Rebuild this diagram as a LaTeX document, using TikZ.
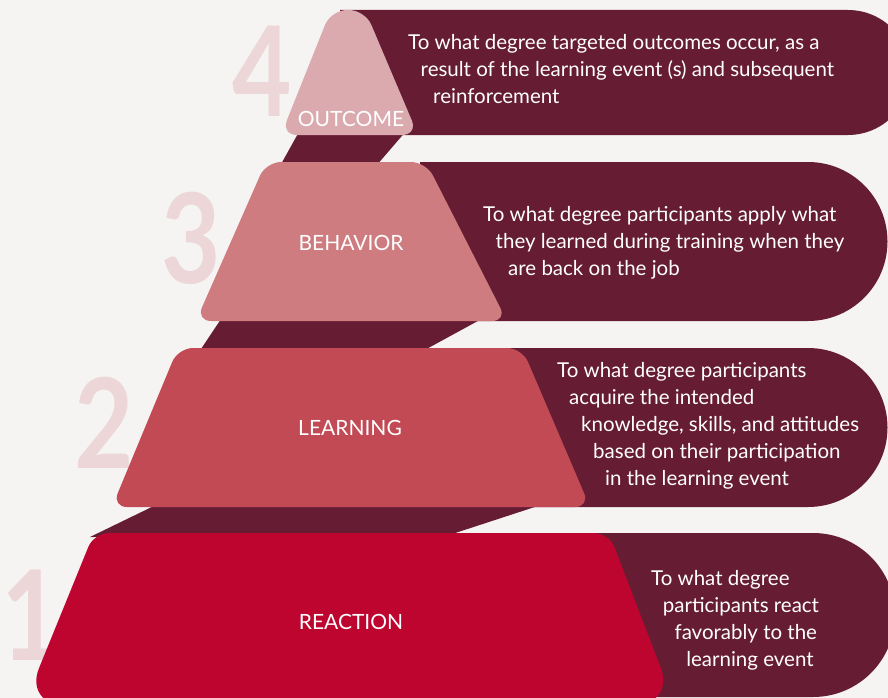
\documentclass[tikz,border=0pt]{standalone}
\usepackage{fontspec}
\setmainfont{Lato}
\definecolor{pagebg}{HTML}{F5F4F2}
\definecolor{wine}{HTML}{661D33}
\definecolor{numpink}{HTML}{ECD6D8}
\definecolor{outcomefill}{HTML}{DAAAAE}
\definecolor{behaviorfill}{HTML}{CE7C80}
\definecolor{learningfill}{HTML}{C24A54}
\definecolor{reactionfill}{HTML}{BD052F}

\begin{document}
\begin{tikzpicture}[
  x=1pt, y=-1pt,
  band/.style={fill=wine},
  stair/.style={fill=wine},
  level/.style={rounded corners=15pt},
  levelname/.style={text=white, font=\fontsize{21}{25}\selectfont, inner sep=0pt, anchor=base},
  levelnum/.style={text=numpink, font=\fontsize{125}{125}\selectfont\bfseries, inner sep=0pt,
    anchor=base, xscale=0.82, transform shape},
  desc/.style={text=white, font=\fontsize{20.5}{27}\selectfont, inner sep=0pt, anchor=base west}
]
\clip (0,0) rectangle (888,698);
\fill[pagebg] (0,0) rectangle (888,698);

% level numbers, partly hidden by the levels
\node[levelnum] (num4) at (262,117) {4};
\node[levelnum] (num3) at (191,283) {3};
\node[levelnum] (num2) at (104,468) {2};
\node[levelnum] (num1) at (31,660) {1};

% dark bands behind each level
\fill[band] (340,10) -- (848,10) arc[start angle=90, end angle=-90, radius=62.5pt] -- (340,135) -- cycle;
\fill[band] (420,162) -- (808,162) arc[start angle=90, end angle=-90, radius=79.5pt] -- (420,321) -- cycle;
\fill[band] (500,348) -- (808,348) arc[start angle=90, end angle=-90, radius=79.5pt] -- (500,507) -- cycle;
\fill[band] (590,533) -- (813,533) arc[start angle=90, end angle=-90, radius=82pt] -- (590,697) -- cycle;

% steps between the levels
\fill[stair] (300,130) -- (407,130) -- (376,166) -- (280,166) -- cycle;
\fill[stair] (223,316) -- (487,316) -- (421,352) -- (199,352) -- cycle;
\fill[stair] (160,503) -- (547,503) -- (443,537) -- (90,537) -- cycle;

% the four levels
\fill[outcomefill, rounded corners=16pt] (331,10) -- (365,10) -- (418,135) -- (281,135) -- cycle;
\fill[behaviorfill, level] (266,162) -- (426,162) -- (507,321) -- (196,321) -- cycle;
\fill[learningfill, level] (178,348) -- (522,348) -- (590,507) -- (112,507) -- cycle;
\fill[reactionfill] (94,533) [rounded corners=15pt] -- (609,533) [rounded corners=40pt] -- (675,705) -- (24,705) [rounded corners=15pt] -- cycle;

\node[levelname] (outcome)  at (351,127) {OUTCOME};
\node[levelname] (behavior) at (351,250) {BEHAVIOR};
\node[levelname] (learning) at (350,435) {LEARNING};
\node[levelname] (reaction) at (351,629) {REACTION};

\foreach \t [count=\i from 0] in {{To what degree targeted outcomes occur, as a},
    {result of the learning event (s) and subsequent}, reinforcement}
  \node[desc] (outcome-\i) at ({408+12.5*\i},{50+27*\i}) {\t};
\foreach \t [count=\i from 0] in {To what degree participants apply what,
    they learned during training when they, are back on the job}
  \node[desc] (behavior-\i) at ({483+12.5*\i},{221+27*\i}) {\t};
\foreach \t [count=\i from 0] in {To what degree participants, acquire the intended,
    {knowledge, skills, and attitudes}, based on their participation, in the learning event}
  \node[desc] (learning-\i) at ({557+12*\i},{377+27*\i}) {\t};
\foreach \t [count=\i from 0] in {To what degree, participants react,
    favorably to the, learning event}
  \node[desc] (reaction-\i) at ({651+11.7*\i},{585+27.3*\i}) {\t};

\end{tikzpicture}
\end{document}
